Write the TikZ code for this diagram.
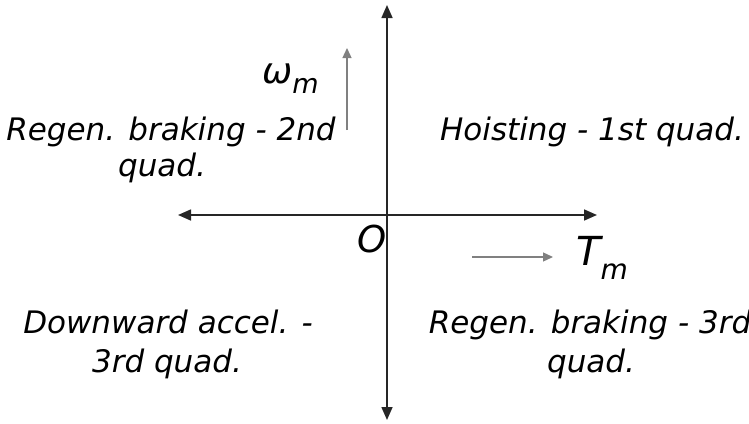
\documentclass[tikz,border=0pt]{standalone}
\usepackage{fontspec}
\setmainfont{DejaVu Sans}
\usetikzlibrary{arrows.meta}
\begin{document}
\begin{tikzpicture}[x=1pt,y=-1pt,
  lbl/.style={font=\fontsize{31}{37}\selectfont\itshape, anchor=base, inner sep=0pt},
  axisline/.style={draw=black!85, line width=1.6pt, -{Triangle[length=13pt,width=11pt]}},
  smallarrow/.style={draw=black!50, line width=1.3pt, -{Triangle[length=10pt,width=9pt]}}]
\useasboundingbox (0,0) rectangle (749,423);
\clip (0,0) rectangle (749,423);
% axes
\coordinate (center) at (387,215);
\coordinate (vtop) at (387,5);
\coordinate (vbot) at (387,420);
\coordinate (hleft) at (178,215);
\coordinate (hright) at (597,215);
\draw[axisline] (center) -- (vtop);
\draw[axisline] (center) -- (vbot);
\draw[axisline] (center) -- (hleft);
\draw[axisline] (center) -- (hright);
% small arrows
\coordinate (wa0) at (347,130);
\coordinate (wa1) at (347,48);
\draw[smallarrow] (wa0) -- (wa1);
\coordinate (ta0) at (472,257);
\coordinate (ta1) at (553,257);
\draw[smallarrow] (ta0) -- (ta1);
% symbols
\node[font=\fontsize{36}{40}\selectfont\itshape, anchor=base west, inner sep=0pt] (omega) at (262,83) {ω\lower 10pt\hbox{\fontsize{27}{30}\selectfont m}};
\node[font=\fontsize{40}{44}\selectfont\itshape, anchor=base west, inner sep=0pt] (torque) at (576,265) {T\lower 14pt\hbox{\fontsize{28}{30}\selectfont m}};
\node[font=\fontsize{37}{40}\selectfont\itshape, anchor=base, inner sep=0pt] (origin) at (372,252) {O};
% quadrant labels
\node[lbl] (q1) at (592,140) {Hoisting - 1st quad.};
\node[lbl] (q2a) at (171,140) {Regen. braking - 2nd};
\node[lbl] (q2b) at (162,176) {quad.};
\node[lbl] (q3a) at (168,333) {Downward accel. -};
\node[lbl] (q3b) at (167,372) {3rd quad.};
\node[lbl] (q4a) at (590,333) {Regen. braking - 3rd};
\node[lbl] (q4b) at (591,372) {quad.};
\end{tikzpicture}
\end{document}
